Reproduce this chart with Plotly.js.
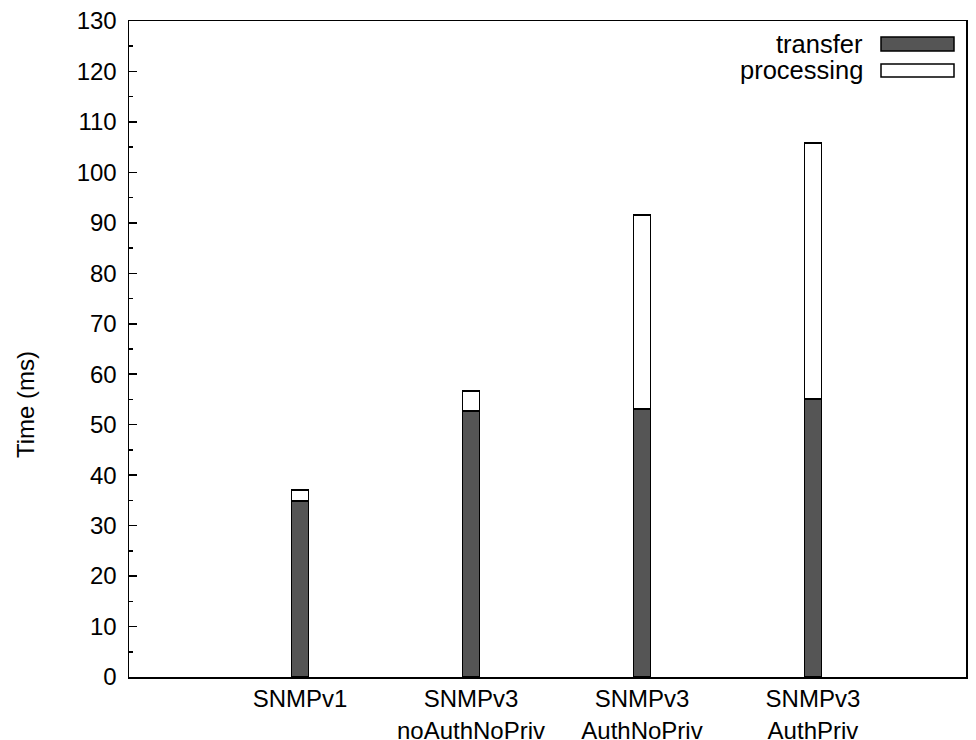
<!DOCTYPE html>
<html>
<head>
<meta charset="utf-8">
<script src="https://cdn.plot.ly/plotly-3.0.1.min.js"></script>
<style>html,body{margin:0;padding:0;background:#fff;}#chart{width:976px;height:740px;}</style>
</head>
<body>
<div id="chart"></div>
<script>
const categories = ["SNMPv1", "SNMPv3<br>noAuthNoPriv", "SNMPv3<br>AuthNoPriv", "SNMPv3<br>AuthPriv"];
const positions = [1, 2, 3, 4];
const transfer = [34.9, 52.7, 53.1, 55.1];
const processing = [2.2, 4.0, 38.5, 50.7];
const yTicks = [0, 10, 20, 30, 40, 50, 60, 70, 80, 90, 100, 110, 120, 130];
const yTitle = "Time (ms)";

const FONT = "Liberation Sans, Arial, sans-serif";
const traces = [
  {type: "bar", name: "transfer", x: positions, y: transfer, width: 0.1,
   marker: {color: "#555555", line: {color: "#000", width: 1.5}}},
  {type: "bar", name: "processing", x: positions, y: processing, width: 0.1,
   marker: {color: "#ffffff", line: {color: "#000", width: 1.5}}}
];
const px = v => (v - 129) / 837;
const py = v => 1 - (v - 21) / 656;
const layout = {
  width: 976, height: 740,
  margin: {l: 129, r: 10, t: 21, b: 63},
  barmode: "stack",
  showlegend: false,
  paper_bgcolor: "#fff", plot_bgcolor: "#fff",
  font: {family: FONT, size: 24, color: "#000"},
  xaxis: {range: [0, 4.895], tickvals: positions, ticktext: categories, ticks: "",
          showline: true, mirror: true, linecolor: "#000", linewidth: 1.5,
          showgrid: false, zeroline: false, tickfont: {size: 24}},
  yaxis: {range: [0, 130], tickvals: yTicks, ticks: "inside", ticklen: 8, tickwidth: 1.5, tickcolor: "#000",
          minor: {dtick: 5, ticks: "inside", ticklen: 4, tickwidth: 1.5, tickcolor: "#000", showgrid: false},
          showline: true, mirror: true, linecolor: "#000", linewidth: 1.5,
          showgrid: false, zeroline: false, tickfont: {size: 24}, ticklabelstandoff: 6},
  annotations: [
    {xref: "paper", yref: "paper", x: px(25), y: py(405), xanchor: "center", yanchor: "middle",
     text: yTitle, textangle: -90, showarrow: false, font: {size: 24}},
    {xref: "paper", yref: "paper", x: px(865), y: py(44), xanchor: "right", yanchor: "middle",
     text: traces[0].name, showarrow: false, font: {size: 25.5}},
    {xref: "paper", yref: "paper", x: px(865), y: py(70), xanchor: "right", yanchor: "middle",
     text: traces[1].name, showarrow: false, font: {size: 25.5}}
  ],
  shapes: [
    {type: "rect", xref: "paper", yref: "paper", x0: px(881), x1: px(954),
     y0: py(51), y1: py(37), fillcolor: "#555555", line: {color: "#000", width: 1.5}},
    {type: "rect", xref: "paper", yref: "paper", x0: px(881), x1: px(954),
     y0: py(77), y1: py(64), fillcolor: "#ffffff", line: {color: "#000", width: 1.5}}
  ]
};
Plotly.newPlot("chart", traces, layout, {staticPlot: true});
</script>
</body>
</html>
